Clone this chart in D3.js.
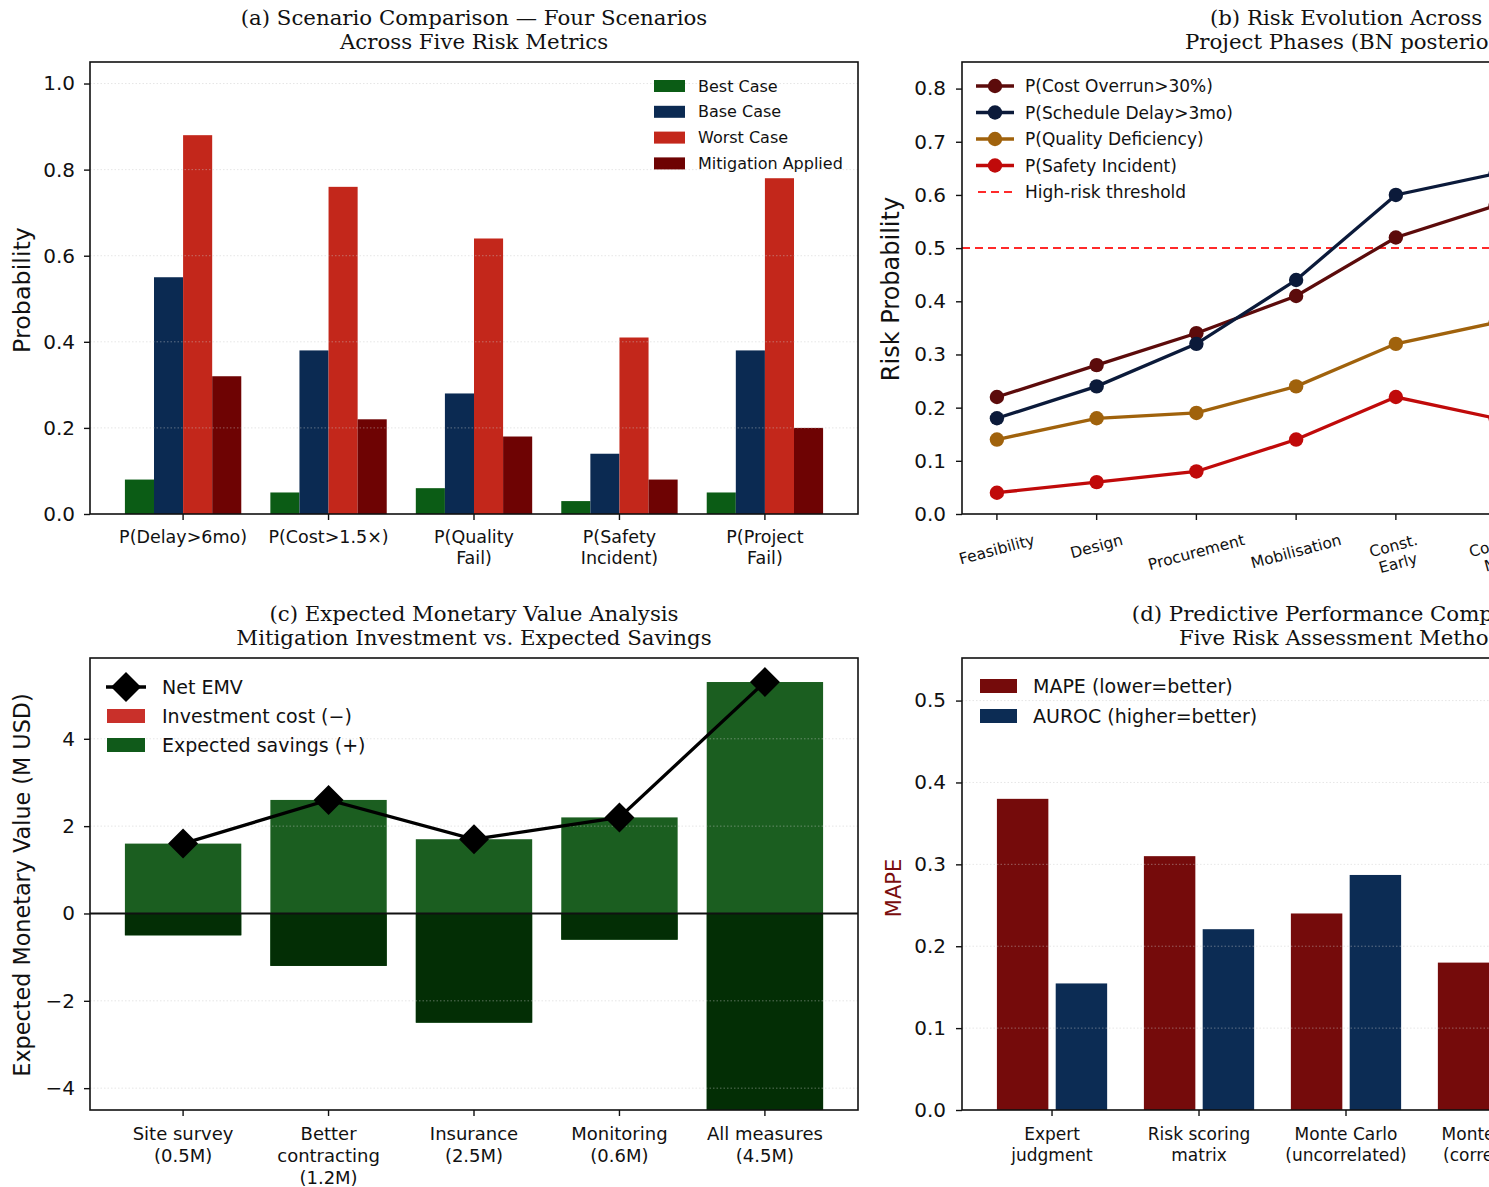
<!DOCTYPE html>
<html>
<head>
<meta charset="utf-8">
<script src="https://cdn.jsdelivr.net/npm/d3@7/dist/d3.min.js"></script>
<style>
  html, body { margin: 0; padding: 0; background: #fff; overflow: hidden; }
  svg { display: block; }
  text { font-family: "DejaVu Sans", sans-serif; }
  .title { font-family: "DejaVu Serif", serif; font-size: 21.3px; }
</style>
</head>
<body>
<svg id="fig" width="1760" height="1187"></svg>
<script>
// ---------- (a) scenario comparison ----------
const scenarioMetrics = ["P(Delay>6mo)", "P(Cost>1.5×)", "P(Quality\nFail)", "P(Safety\nIncident)", "P(Project\nFail)"];
const scenarioNames = ["Best Case", "Base Case", "Worst Case", "Mitigation Applied"];
const bestCase = [0.08, 0.05, 0.06, 0.03, 0.05];
const baseCase = [0.55, 0.38, 0.28, 0.14, 0.38];
const worstCase = [0.88, 0.76, 0.64, 0.41, 0.78];
const mitigationApplied = [0.32, 0.22, 0.18, 0.08, 0.20];
const scenarioTicks = [0, 0.2, 0.4, 0.6, 0.8, 1.0];

// ---------- (b) risk evolution across phases ----------
const phases = ["Feasibility", "Design", "Procurement", "Mobilisation", "Const.\nEarly", "Const.\nMid", "Const.\nLate", "Commissioning"];
const riskSeriesNames = ["P(Cost Overrun>30%)", "P(Schedule Delay>3mo)", "P(Quality Deficiency)", "P(Safety Incident)"];
const costOverrun = [0.22, 0.28, 0.34, 0.41, 0.52, 0.58, 0.62, 0.55];
const scheduleDelay = [0.18, 0.24, 0.32, 0.44, 0.60, 0.64, 0.66, 0.58];
const qualityDeficiency = [0.14, 0.18, 0.19, 0.24, 0.32, 0.36, 0.40, 0.42];
const safetyIncident = [0.04, 0.06, 0.08, 0.14, 0.22, 0.18, 0.15, 0.10];
const highRiskThreshold = 0.5;
const riskTicks = [0, 0.1, 0.2, 0.3, 0.4, 0.5, 0.6, 0.7, 0.8];

// ---------- (c) expected monetary value ----------
const measures = ["Site survey\n(0.5M)", "Better\ncontracting\n(1.2M)", "Insurance\n(2.5M)", "Monitoring\n(0.6M)", "All measures\n(4.5M)"];
const investmentCost = [0.5, 1.2, 2.5, 0.6, 4.5];
const expectedSavings = [2.1, 3.8, 4.2, 2.8, 9.8];
const netEMV = [1.6, 2.6, 1.7, 2.2, 5.3];
const emvTicks = [-4, -2, 0, 2, 4];

// ---------- (d) predictive performance ----------
const methods = ["Expert\njudgment", "Risk scoring\nmatrix", "Monte Carlo\n(uncorrelated)", "Monte Carlo\n(correlated)", "Bayesian\nNetwork"];
const mape = [0.38, 0.31, 0.24, 0.18, 0.12];
const auroc = [0.64, 0.70, 0.76, 0.83, 0.91];
const mapeTicks = [0, 0.1, 0.2, 0.3, 0.4, 0.5];
const aurocTicks = [0.5, 0.6, 0.7, 0.8, 0.9, 1.0];

const svg = d3.select("#fig");
const INK = "#111";

// shared layout of the four panels
const panels = {
  a: { x0: 90, x1: 858, y0: 62, y1: 514 },
  b: { x0: 962, x1: 1730, y0: 62, y1: 514 },
  c: { x0: 90, x1: 858, y0: 658, y1: 1110 },
  d: { x0: 962, x1: 1730, y0: 658, y1: 1110 }
};

function txt(sel) { return sel.style("fill", INK); }

function title(p, lines, y) {
  const t = txt(svg.append("text").attr("class", "title").attr("text-anchor", "middle"));
  lines.forEach((l, i) => t.append("tspan").attr("x", (p.x0 + p.x1) / 2).attr("y", y + i * 24).text(l));
}

function yAxis(p, y, ticks, fmt, opts = {}) {
  const g = svg.append("g").attr("transform", `translate(${p.x0},0)`);
  const ax = d3.axisLeft(y).tickValues(ticks).tickFormat(fmt).tickSize(6).tickPadding(opts.pad || 9).tickSizeOuter(0);
  g.call(ax);
  g.select(".domain").remove();
  g.selectAll(".tick line").attr("stroke", INK).attr("stroke-width", 1.4);
  g.selectAll(".tick text").attr("font-size", opts.size || 20).attr("font-family", "DejaVu Sans").style("fill", INK);
  return g;
}

function grid(p, y, ticks) {
  svg.append("g").selectAll("line").data(ticks).join("line")
    .attr("x1", p.x0).attr("x2", p.x1)
    .attr("y1", d => y(d)).attr("y2", d => y(d))
    .attr("stroke", "#c8c8c8").attr("stroke-opacity", 0.45)
    .attr("stroke-width", 1).attr("stroke-dasharray", "1.5,2");
}

function frame(p) {
  svg.append("rect").attr("x", p.x0).attr("y", p.y0)
    .attr("width", p.x1 - p.x0).attr("height", p.y1 - p.y0)
    .attr("fill", "none").attr("stroke", INK).attr("stroke-width", 1.6);
}

function xCategoryAxis(p, x, labels, size, lineH, firstBase) {
  const g = svg.append("g");
  labels.forEach((lab, i) => {
    const cx = x(i);
    g.append("line").attr("x1", cx).attr("x2", cx).attr("y1", p.y1).attr("y2", p.y1 + 6)
      .attr("stroke", INK).attr("stroke-width", 1.4);
    const t = txt(g.append("text").attr("text-anchor", "middle").attr("font-size", size));
    lab.split("\n").forEach((l, k) => t.append("tspan").attr("x", cx).attr("y", p.y1 + firstBase + k * lineH).text(l));
  });
}

function yLabel(x, yc, text, size, color) {
  svg.append("text").attr("transform", `translate(${x},${yc}) rotate(-90)`)
    .attr("text-anchor", "middle").attr("dominant-baseline", "central")
    .attr("font-size", size).style("fill", color || INK).text(text);
}

function legendText(g, x, y, size, s) {
  return txt(g.append("text").attr("x", x).attr("y", y).attr("dominant-baseline", "central").attr("font-size", size).text(s));
}

// ================= Panel (a) =================
{
  const p = panels.a;
  const x = d3.scaleLinear().domain([-0.64, 4.64]).range([p.x0, p.x1]);
  const y = d3.scaleLinear().domain([0, 1.05]).range([p.y1, p.y0]);
  const series = [bestCase, baseCase, worstCase, mitigationApplied];
  const colors = ["#0b5c15", "#0b2a52", "#c3271b", "#6e0303"];
  const w = 0.2;
  series.forEach((vals, s) => {
    const off = (s - 1.5) * w;
    svg.append("g").selectAll("rect").data(vals).join("rect")
      .attr("x", (d, i) => x(i + off - w / 2))
      .attr("width", (d, i) => x(i + off + w / 2) - x(i + off - w / 2))
      .attr("y", d => y(d)).attr("height", d => y(0) - y(d))
      .attr("fill", colors[s]);
  });
  grid(p, y, scenarioTicks.slice(1));
  frame(p);
  yAxis(p, y, scenarioTicks, d3.format(".1f"));
  xCategoryAxis(p, x, scenarioMetrics, 17.5, 21, 29);
  yLabel(22, 290, "Probability", 23.8);
  title(p, ["(a) Scenario Comparison — Four Scenarios", "Across Five Risk Metrics"], 25);
  // legend
  const lg = svg.append("g").attr("transform", "translate(654,86)");
  scenarioNames.forEach((n, i) => {
    lg.append("rect").attr("x", 0).attr("y", i * 25.8 - 6).attr("width", 31).attr("height", 12).attr("fill", colors[i]);
    legendText(lg, 44, i * 25.8, 16, n);
  });
}

// ================= Panel (b) =================
{
  const p = panels.b;
  const x = d3.scaleLinear().domain([-0.35, 7.35]).range([p.x0, p.x1]);
  const y = d3.scaleLinear().domain([0, 0.85]).range([p.y1, p.y0]);
  const series = [costOverrun, scheduleDelay, qualityDeficiency, safetyIncident];
  const colors = ["#5c0b0b", "#0b1a3a", "#a0620c", "#c00a0a"];
  // clip so the panel stays inside its frame
  svg.append("clipPath").attr("id", "clipB").append("rect")
    .attr("x", p.x0).attr("y", p.y0).attr("width", p.x1 - p.x0).attr("height", p.y1 - p.y0);
  const plot = svg.append("g").attr("clip-path", "url(#clipB)");
  plot.append("line").attr("x1", p.x0).attr("x2", p.x1)
    .attr("y1", y(highRiskThreshold)).attr("y2", y(highRiskThreshold))
    .attr("stroke", "#ff2a2a").attr("stroke-width", 2).attr("stroke-dasharray", "8,5");
  const line = d3.line().x((d, i) => x(i)).y(d => y(d));
  series.forEach((vals, s) => {
    plot.append("path").attr("d", line(vals)).attr("fill", "none")
      .attr("stroke", colors[s]).attr("stroke-width", 3.3);
    plot.append("g").selectAll("circle").data(vals).join("circle")
      .attr("cx", (d, i) => x(i)).attr("cy", d => y(d)).attr("r", 7.2)
      .attr("fill", colors[s]);
  });
  frame(p);
  yAxis(p, y, riskTicks, d3.format(".1f"), { pad: 10 });
  // rotated phase labels
  const lg0 = svg.append("g");
  phases.forEach((ph, i) => {
    const cx = x(i);
    lg0.append("line").attr("x1", cx).attr("x2", cx).attr("y1", p.y1).attr("y2", p.y1 + 6)
      .attr("stroke", INK).attr("stroke-width", 1.4);
    const g = lg0.append("g");
    const t = txt(g.append("text").attr("text-anchor", "middle").attr("font-size", 15.5)
      .attr("transform", "rotate(-15)"));
    const parts = ph.split("\n");
    parts.forEach((l, k) => t.append("tspan").attr("x", 0).attr("y", (k - (parts.length - 1) / 2) * 18 + 5).text(l));
    // position so the rotated block's top edge sits just under the axis
    const rot = t.node().getBoundingClientRect();
    g.attr("transform", `translate(${cx},${p.y1 + 17 + rot.height / 2})`);
  });
  yLabel(891, 289, "Risk Probability", 24);
  title(p, ["(b) Risk Evolution Across", "Project Phases (BN posterior)"], 25);
  // legend
  const lg = svg.append("g").attr("transform", "translate(976,86)");
  riskSeriesNames.forEach((n, i) => {
    const yy = i * 26.5;
    lg.append("line").attr("x1", 0).attr("x2", 38).attr("y1", yy).attr("y2", yy).attr("stroke", colors[i]).attr("stroke-width", 3.3);
    lg.append("circle").attr("cx", 19).attr("cy", yy).attr("r", 7.2).attr("fill", colors[i]);
    legendText(lg, 49, yy, 17, n);
  });
  const yy = 4 * 26.5;
  lg.append("line").attr("x1", 2).attr("x2", 38).attr("y1", yy).attr("y2", yy)
    .attr("stroke", "#ff2a2a").attr("stroke-width", 2).attr("stroke-dasharray", "8,5");
  legendText(lg, 49, yy, 17, "High-risk threshold");
}

// ================= Panel (c) =================
{
  const p = panels.c;
  const x = d3.scaleLinear().domain([-0.64, 4.64]).range([p.x0, p.x1]);
  const y = d3.scaleLinear().domain([-4.5, 5.85]).range([p.y1, p.y0]);
  const w = 0.8;
  svg.append("clipPath").attr("id", "clipC").append("rect")
    .attr("x", p.x0).attr("y", p.y0).attr("width", p.x1 - p.x0).attr("height", p.y1 - p.y0);
  const plot = svg.append("g").attr("clip-path", "url(#clipC)");
  // savings stacked on top of the (negative) investment
  plot.append("g").selectAll("rect").data(expectedSavings).join("rect")
    .attr("x", (d, i) => x(i - w / 2)).attr("width", (d, i) => x(i + w / 2) - x(i - w / 2))
    .attr("y", (d, i) => y(d - investmentCost[i])).attr("height", (d, i) => y(-investmentCost[i]) - y(d - investmentCost[i]))
    .attr("fill", "#1b5e20");
  plot.append("g").selectAll("rect").data(investmentCost).join("rect")
    .attr("x", (d, i) => x(i - w / 2)).attr("width", (d, i) => x(i + w / 2) - x(i - w / 2))
    .attr("y", y(0)).attr("height", d => y(-d) - y(0))
    .attr("fill", "#032e05");
  grid(p, y, [-4, -2, 2, 4]);
  plot.append("line").attr("x1", p.x0).attr("x2", p.x1).attr("y1", y(0)).attr("y2", y(0))
    .attr("stroke", INK).attr("stroke-width", 2);
  const line = d3.line().x((d, i) => x(i)).y(d => y(d));
  svg.append("path").attr("d", line(netEMV)).attr("fill", "none").attr("stroke", "#000").attr("stroke-width", 3.3);
  const diamond = "M0,-15L15,0L0,15L-15,0Z";
  svg.append("g").selectAll("path").data(netEMV).join("path")
    .attr("transform", (d, i) => `translate(${x(i)},${y(d)})`).attr("d", diamond).attr("fill", "#000");
  frame(p);
  yAxis(p, y, emvTicks, d3.format("d"));
  xCategoryAxis(p, x, measures, 18, 22, 30);
  yLabel(22, 885, "Expected Monetary Value (M USD)", 22.3);
  title(p, ["(c) Expected Monetary Value Analysis", "Mitigation Investment vs. Expected Savings"], 621);
  // legend
  const lg = svg.append("g").attr("transform", "translate(106,687)");
  lg.append("line").attr("x1", 0).attr("x2", 40).attr("y1", 0).attr("y2", 0).attr("stroke", "#000").attr("stroke-width", 3.3);
  lg.append("path").attr("transform", "translate(20,0)").attr("d", diamond).attr("fill", "#000");
  legendText(lg, 56, 0, 19, "Net EMV");
  lg.append("rect").attr("x", 1).attr("y", 29 - 7).attr("width", 38).attr("height", 14).attr("fill", "#c9302a");
  legendText(lg, 56, 29, 19, "Investment cost (−)");
  lg.append("rect").attr("x", 1).attr("y", 58 - 7).attr("width", 38).attr("height", 14).attr("fill", "#105a1a");
  legendText(lg, 56, 58, 19, "Expected savings (+)");
}

// ================= Panel (d) =================
{
  const p = panels.d;
  const x = d3.scaleLinear().domain([-0.6125, 4.6125]).range([p.x0, p.x1]);
  const y = d3.scaleLinear().domain([0, 0.552]).range([p.y1, p.y0]);
  const y2 = d3.scaleLinear().domain([0.5, 1.0]).range([p.y1, p.y0]);
  const w = 0.35, off = 0.2;
  const cMape = "#750b0b", cAuroc = "#0c2c54";
  svg.append("g").selectAll("rect").data(mape).join("rect")
    .attr("x", (d, i) => x(i - off - w / 2)).attr("width", (d, i) => x(i - off + w / 2) - x(i - off - w / 2))
    .attr("y", d => y(d)).attr("height", d => y(0) - y(d)).attr("fill", cMape);
  svg.append("g").selectAll("rect").data(auroc).join("rect")
    .attr("x", (d, i) => x(i + off - w / 2)).attr("width", (d, i) => x(i + off + w / 2) - x(i + off - w / 2))
    .attr("y", d => y2(d)).attr("height", d => y2(0.5) - y2(d)).attr("fill", cAuroc);
  grid(p, y, [0.1, 0.2, 0.3, 0.4, 0.5]);
  frame(p);
  yAxis(p, y, mapeTicks, d3.format(".1f"), { pad: 10 });
  // right-hand AUROC axis
  const gr = svg.append("g").attr("transform", `translate(${p.x1},0)`);
  gr.call(d3.axisRight(y2).tickValues(aurocTicks).tickFormat(d3.format(".1f")).tickSize(6).tickPadding(9).tickSizeOuter(0));
  gr.select(".domain").remove();
  gr.selectAll(".tick line").attr("stroke", INK).attr("stroke-width", 1.4);
  gr.selectAll(".tick text").attr("font-size", 20).attr("font-family", "DejaVu Sans").style("fill", INK);
  xCategoryAxis(p, x, methods, 17, 21, 30);
  yLabel(894, 888, "MAPE", 21, "#7a0d0d");
  yLabel(p.x1 + 70, 888, "AUROC", 21, "#0c2c54");
  title(p, ["(d) Predictive Performance Comparison", "Five Risk Assessment Methods"], 621);
  // legend
  const lg = svg.append("g").attr("transform", "translate(980,686)");
  [["MAPE (lower=better)", cMape], ["AUROC (higher=better)", cAuroc]].forEach(([n, c], i) => {
    lg.append("rect").attr("x", 0).attr("y", i * 30 - 7).attr("width", 37).attr("height", 14).attr("fill", c);
    legendText(lg, 53, i * 30, 19, n);
  });
}
</script>
</body>
</html>
